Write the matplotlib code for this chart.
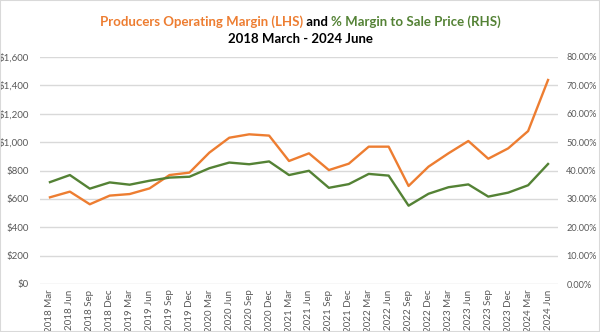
import matplotlib
matplotlib.use("Agg")
import matplotlib.pyplot as plt
from matplotlib.patches import Rectangle
from matplotlib.ticker import FuncFormatter

plt.rcParams['font.family'] = ['Lato', 'DejaVu Sans']

quarters = ["2018 Mar", "2018 Jun", "2018 Sep", "2018 Dec",
            "2019 Mar", "2019 Jun", "2019 Sep", "2019 Dec",
            "2020 Mar", "2020 Jun", "2020 Sep", "2020 Dec",
            "2021 Mar", "2021 Jun", "2021 Sep", "2021 Dec",
            "2022 Mar", "2022 Jun", "2022 Sep", "2022 Dec",
            "2023 Mar", "2023 Jun", "2023 Sep", "2023 Dec",
            "2024 Mar", "2024 Jun"]

# producers operating margin, $ (left axis)
op_margin = [611, 651, 562, 623, 634, 674, 768, 785, 926, 1031, 1055, 1046,
             867, 921, 803, 848, 968, 968, 691, 827, 921, 1008, 883, 956,
             1078, 1438]

# margin as % of sale price (right axis)
pct_margin = [35.9, 38.4, 33.6, 35.8, 35.0, 36.4, 37.5, 37.8, 40.8, 42.8,
              42.2, 43.2, 38.4, 39.9, 33.9, 35.2, 38.8, 38.2, 27.6, 31.8,
              34.1, 35.1, 30.8, 32.2, 34.8, 42.3]

orange = "#ED7D31"
green = "#548235"
grey_text = "#595959"

W, H = 600, 332
fig = plt.figure(figsize=(W / 100, H / 100), dpi=100)
ax = fig.add_axes([40 / W, 1 - 284 / H, 518 / W, 227 / H])
ax2 = ax.twinx()

x = list(range(len(quarters)))
ax.plot(x, op_margin, color=orange, lw=1.7, zorder=3)
ax2.plot(x, pct_margin, color=green, lw=1.7, zorder=3)

ax.set_xlim(-0.5, len(quarters) - 0.5)
ax.set_ylim(0, 1600)
ax.set_yticks(range(0, 1601, 200))
ax.yaxis.set_major_formatter(FuncFormatter(lambda v, p: "${:,.0f}".format(v)))
ax2.set_ylim(0, 80)
ax2.set_yticks(range(0, 81, 10))
ax2.yaxis.set_major_formatter(FuncFormatter(lambda v, p: "{:.2f}%".format(v)))

ax.set_xticks(x)
ax.set_xticklabels(quarters, rotation=90, fontsize=7, color=grey_text)
ax.grid(axis='y', color="#D9D9D9", lw=1)
ax.set_axisbelow(True)

for a in (ax, ax2):
    for s in a.spines.values():
        s.set_visible(False)
    a.tick_params(length=0, labelsize=7, colors=grey_text)
ax.tick_params(axis='y', pad=8)
ax2.tick_params(axis='y', pad=6, labelsize=6.6)
ax.tick_params(axis='x', pad=4)

# two-coloured title line, pieces laid out left to right and centred
fig.canvas.draw()
renderer = fig.canvas.get_renderer()
pieces = [("Producers Operating Margin (LHS)", orange),
          (" and ", "black"),
          ("% Margin to Sale Price (RHS)", green)]
texts = [fig.text(0, 1 - 22 / H, s, color=c, fontsize=9.5, fontweight='bold',
                  va='center', ha='left') for s, c in pieces]
widths = [t.get_window_extent(renderer).width for t in texts]
xpos = (W - sum(widths)) / 2
for t, w in zip(texts, widths):
    t.set_x(xpos / W)
    xpos += w
fig.text(0.5, 1 - 39 / H, "2018 March - 2024 June", color="black",
         fontsize=9.5, fontweight='bold', ha='center', va='center')

fig.patches.append(Rectangle((0, 0), 1, 1, transform=fig.transFigure,
                             fill=False, edgecolor="#D9D9D9", lw=1.5))

fig.savefig("out.png", dpi=100)
